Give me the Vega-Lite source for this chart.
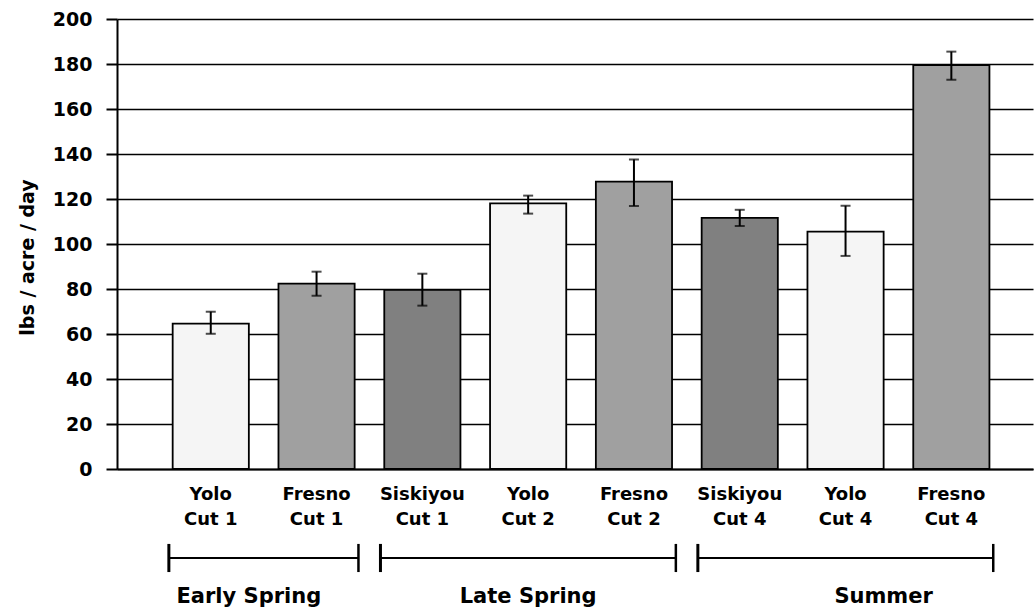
{
  "$schema": "https://vega.github.io/schema/vega-lite/v6.json",
  "autosize": "none",
  "width": 916,
  "height": 450,
  "padding": {"left": 117, "top": 19, "right": 1, "bottom": 140},
  "background": "white",
  "config": {
    "view": {"stroke": null},
    "font": "DejaVu Sans"
  },
  "datasets": {
    "bars": [
      {"category": "Yolo Cut 1", "variety": "Yolo", "mean": 64.6, "low": 60.1, "high": 69.9},
      {"category": "Fresno Cut 1", "variety": "Fresno", "mean": 82.4, "low": 77.0, "high": 87.7},
      {"category": "Siskiyou Cut 1", "variety": "Siskiyou", "mean": 79.6, "low": 72.6, "high": 86.8},
      {"category": "Yolo Cut 2", "variety": "Yolo", "mean": 118.1, "low": 113.5, "high": 121.5},
      {"category": "Fresno Cut 2", "variety": "Fresno", "mean": 127.7, "low": 116.9, "high": 137.6},
      {"category": "Siskiyou Cut 4", "variety": "Siskiyou", "mean": 111.6, "low": 108.0, "high": 115.2},
      {"category": "Yolo Cut 4", "variety": "Yolo", "mean": 105.5, "low": 94.7, "high": 117.0},
      {"category": "Fresno Cut 4", "variety": "Fresno", "mean": 179.5, "low": 173.0, "high": 185.5}
    ],
    "seasons": [
      {"season": "Early Spring", "first": "Yolo Cut 1", "last": "Fresno Cut 1", "labelUnder": "Yolo Cut 1", "bars": 2},
      {"season": "Late Spring", "first": "Siskiyou Cut 1", "last": "Fresno Cut 2", "labelUnder": "Yolo Cut 2", "bars": 3},
      {"season": "Summer", "first": "Siskiyou Cut 4", "last": "Fresno Cut 4", "labelUnder": "Yolo Cut 4", "bars": 3}
    ]
  },
  "resolve": {"scale": {"x": "shared", "y": "shared"}},
  "layer": [
    {
      "data": {"name": "bars"},
      "mark": {"type": "bar", "stroke": "black", "strokeWidth": 1.8},
      "encoding": {
        "x": {
          "field": "category", "type": "nominal", "sort": null,
          "scale": {
            "domain": ["Yolo Cut 1", "Fresno Cut 1", "Siskiyou Cut 1", "Yolo Cut 2", "Fresno Cut 2", "Siskiyou Cut 4", "Yolo Cut 4", "Fresno Cut 4"],
            "paddingInner": 0.28, "paddingOuter": 0.469, "align": 0.561
          },
          "axis": {
            "title": null, "labelAngle": 0, "ticks": false, "grid": false,
            "domainColor": "black", "domainWidth": 2,
            "labelFont": "DejaVu Sans", "labelFontWeight": "bold", "labelFontSize": 18,
            "labelColor": "black", "labelPadding": 16, "labelLineHeight": 25,
            "labelOverlap": false,
            "labelExpr": "[split(datum.value, ' Cut ')[0], 'Cut ' + split(datum.value, ' Cut ')[1]]"
          }
        },
        "y": {
          "field": "mean", "type": "quantitative",
          "scale": {"domain": [0, 200], "nice": false, "zero": false},
          "axis": {
            "title": "lbs / acre / day",
            "values": [0, 20, 40, 60, 80, 100, 120, 140, 160, 180, 200],
            "grid": true, "gridColor": "black", "gridWidth": 1.5, "gridOpacity": 1,
            "domainColor": "black", "domainWidth": 2,
            "tickColor": "black", "tickWidth": 2, "tickSize": 11,
            "labelFont": "DejaVu Sans", "labelFontWeight": "bold", "labelFontSize": 19,
            "labelColor": "black", "labelPadding": 14,
            "titleFont": "DejaVu Sans", "titleFontWeight": "bold", "titleFontSize": 19,
            "titleColor": "black", "titleX": -90, "titleY": 238, "titleAngle": -90,
            "titleBaseline": "middle", "titleAlign": "center"
          }
        },
        "color": {
          "field": "variety", "type": "nominal", "legend": null,
          "scale": {"domain": ["Yolo", "Fresno", "Siskiyou"], "range": ["#f5f5f5", "#a0a0a0", "#808080"]}
        }
      }
    },
    {
      "data": {"name": "bars"},
      "mark": {"type": "rule", "color": "black", "strokeWidth": 2},
      "encoding": {
        "x": {"field": "category", "type": "nominal"},
        "y": {"field": "low", "type": "quantitative"},
        "y2": {"field": "high"}
      }
    },
    {
      "data": {"name": "bars"},
      "mark": {"type": "tick", "color": "black", "thickness": 2, "size": 10},
      "encoding": {
        "x": {"field": "category", "type": "nominal"},
        "y": {"field": "low", "type": "quantitative"}
      }
    },
    {
      "data": {"name": "bars"},
      "mark": {"type": "tick", "color": "black", "thickness": 2, "size": 10},
      "encoding": {
        "x": {"field": "category", "type": "nominal"},
        "y": {"field": "high", "type": "quantitative"}
      }
    },
    {
      "data": {"name": "seasons"},
      "mark": {"type": "rule", "color": "black", "strokeWidth": 2},
      "encoding": {
        "x": {"field": "first", "type": "nominal", "bandPosition": -0.05},
        "x2": {"field": "last", "bandPosition": 1.05},
        "y": {"datum": -39.6}
      }
    },
    {
      "data": {"name": "seasons"},
      "mark": {"type": "rule", "color": "black", "strokeWidth": 3},
      "encoding": {
        "x": {"field": "first", "type": "nominal", "bandPosition": -0.05},
        "y": {"datum": -33.3},
        "y2": {"datum": -45.8}
      }
    },
    {
      "data": {"name": "seasons"},
      "mark": {"type": "rule", "color": "black", "strokeWidth": 2.5},
      "encoding": {
        "x": {"field": "last", "type": "nominal", "bandPosition": 1.05},
        "y": {"datum": -33.3},
        "y2": {"datum": -45.8}
      }
    },
    {
      "data": {"name": "seasons"},
      "transform": [{"filter": "datum.bars == 2 || datum.season == 'Summer'"}],
      "mark": {"type": "text", "font": "DejaVu Sans", "fontWeight": "bold", "fontSize": 21, "color": "black", "baseline": "alphabetic", "align": "center"},
      "encoding": {
        "x": {"field": "labelUnder", "type": "nominal", "bandPosition": 1},
        "y": {"datum": -59.6},
        "text": {"field": "season"}
      }
    },
    {
      "data": {"name": "seasons"},
      "transform": [{"filter": "datum.season == 'Late Spring'"}],
      "mark": {"type": "text", "font": "DejaVu Sans", "fontWeight": "bold", "fontSize": 21, "color": "black", "baseline": "alphabetic", "align": "center"},
      "encoding": {
        "x": {"field": "labelUnder", "type": "nominal", "bandPosition": 0.5},
        "y": {"datum": -59.6},
        "text": {"field": "season"}
      }
    }
  ]
}
